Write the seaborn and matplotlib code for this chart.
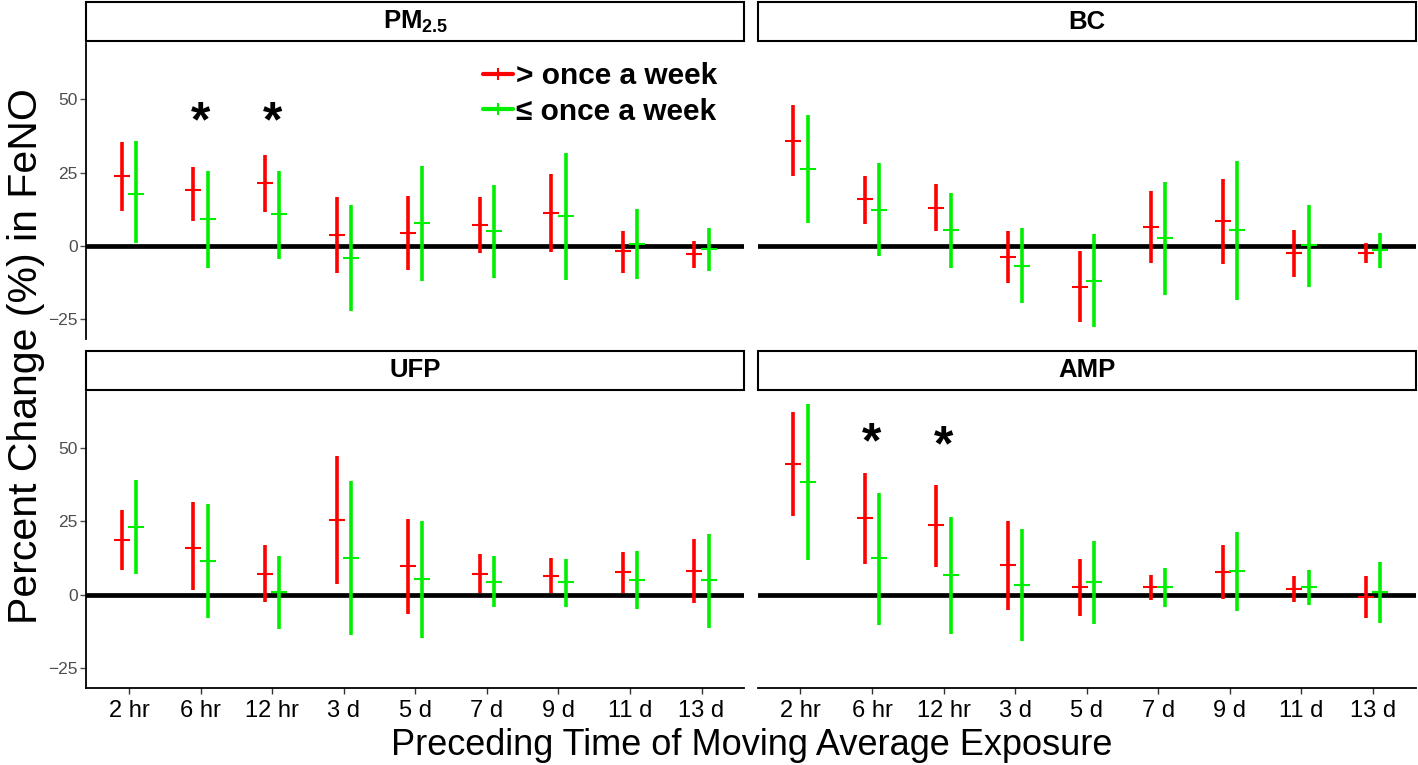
import numpy as np
import pandas as pd
import matplotlib
matplotlib.use("Agg")
import matplotlib.pyplot as plt
from matplotlib.patches import Rectangle
from matplotlib.lines import Line2D
import seaborn as sns

# categorias
windows = ["2 hr", "6 hr", "12 hr", "3 d", "5 d", "7 d", "9 d", "11 d", "13 d"]
pollutants = ["PM2.5", "BC", "UFP", "AMP"]
strip_labels = [r"$\mathbf{PM_{2.5}}$", "BC", "UFP", "AMP"]
groups = ["> once a week", "≤ once a week"]
colors = ["#FF0000", "#00EE00"]

# PM2.5
pm25_gt = [23.8, 19.2, 21.4, 3.6, 4.4, 7.1, 11.2, -1.9, -2.9]
pm25_gt_lo = [11.9, 8.5, 11.7, -9.4, -8.3, -2.3, -2.0, -9.2, -7.5]
pm25_gt_hi = [35.4, 26.8, 31.1, 16.6, 17.1, 16.6, 24.4, 4.9, 1.5]
pm25_le = [17.8, 9.1, 10.7, -4.1, 7.8, 5.0, 10.1, 0.6, -1.1]
pm25_le_lo = [0.9, -7.6, -4.4, -22.1, -11.9, -11.1, -11.6, -11.2, -8.6]
pm25_le_hi = [35.8, 25.6, 25.5, 13.8, 27.4, 20.9, 31.6, 12.7, 6.2]

# BC
bc_gt = [35.9, 16.1, 12.9, -3.7, -14.1, 6.5, 8.4, -2.5, -2.3]
bc_gt_lo = [23.9, 7.5, 4.9, -12.7, -26.0, -5.7, -6.2, -10.7, -5.9]
bc_gt_hi = [47.9, 23.8, 21.0, 5.1, -1.9, 18.6, 22.9, 5.4, 1.1]
bc_le = [26.3, 12.4, 5.3, -6.7, -11.9, 2.6, 5.4, 0.2, -1.4]
bc_le_lo = [7.9, -3.4, -7.6, -19.5, -27.8, -16.7, -18.3, -14.1, -7.5]
bc_le_hi = [44.7, 28.1, 18.1, 6.2, 4.0, 21.8, 29.1, 13.8, 4.5]

# UFP
ufp_gt = [18.7, 16.1, 7.1, 25.6, 9.7, 7.1, 6.3, 7.6, 8.1]
ufp_gt_lo = [8.4, 1.5, -2.6, 3.8, -6.6, 0.6, 0.6, 0.6, -2.9]
ufp_gt_hi = [29.0, 31.7, 17.1, 47.3, 25.9, 14.0, 12.7, 14.6, 19.1]
ufp_le = [23.2, 11.5, 0.8, 12.6, 5.3, 4.5, 4.2, 5.0, 4.9]
ufp_le_lo = [7.2, -7.9, -11.8, -13.6, -14.9, -4.3, -4.0, -4.9, -11.3]
ufp_le_hi = [39.1, 31.0, 13.2, 38.7, 25.3, 13.1, 12.3, 14.8, 20.9]

# AMP
amp_gt = [44.7, 26.1, 23.8, 10.1, 2.5, 2.5, 7.9, 2.1, -0.8]
amp_gt_lo = [27.0, 10.4, 9.6, -5.1, -7.4, -1.9, -1.6, -2.3, -7.8]
amp_gt_hi = [62.2, 41.6, 37.5, 25.1, 12.3, 6.8, 17.0, 6.3, 6.3]
amp_le = [38.5, 12.4, 6.8, 3.5, 4.5, 2.6, 8.1, 2.6, 1.0]
amp_le_lo = [11.9, -10.2, -13.3, -15.7, -9.8, -4.2, -5.7, -3.5, -9.5]
amp_le_hi = [65.0, 34.8, 26.7, 22.6, 18.4, 9.0, 21.5, 8.6, 11.3]

# asteriscos de significancia
star_panels = ["PM2.5", "PM2.5", "AMP", "AMP"]
star_windows = ["6 hr", "12 hr", "6 hr", "12 hr"]
star_y = [44.7, 44.7, 54.3, 53.3]

series = {
    ("PM2.5", groups[0]): (pm25_gt, pm25_gt_lo, pm25_gt_hi),
    ("PM2.5", groups[1]): (pm25_le, pm25_le_lo, pm25_le_hi),
    ("BC", groups[0]): (bc_gt, bc_gt_lo, bc_gt_hi),
    ("BC", groups[1]): (bc_le, bc_le_lo, bc_le_hi),
    ("UFP", groups[0]): (ufp_gt, ufp_gt_lo, ufp_gt_hi),
    ("UFP", groups[1]): (ufp_le, ufp_le_lo, ufp_le_hi),
    ("AMP", groups[0]): (amp_gt, amp_gt_lo, amp_gt_hi),
    ("AMP", groups[1]): (amp_le, amp_le_lo, amp_le_hi),
}
rows = []
for (pol, grp), (est, lo, hi) in series.items():
    for w, e, l, h in zip(windows, est, lo, hi):
        rows.append(dict(pollutant=pol, window=w, group=grp, est=e, lo=l, hi=h))
df = pd.DataFrame(rows)

sns.set_theme(style="white")
plt.rcParams["font.family"] = ["Liberation Sans", "DejaVu Sans"]
plt.rcParams["text.color"] = "black"
plt.rcParams["mathtext.fontset"] = "custom"
plt.rcParams["mathtext.rm"] = "Liberation Sans"
plt.rcParams["mathtext.bf"] = "Liberation Sans:bold"


def draw(data, **kws):
    ax = plt.gca()
    ax.axhline(0, color="black", lw=3.4, zorder=1)
    for k, (grp, col) in enumerate(zip(groups, colors)):
        d = data[data["group"] == grp]
        x = np.array([windows.index(w) for w in d["window"]]) + (-0.1 if k == 0 else 0.1)
        ax.errorbar(x, d["est"], yerr=[d["est"] - d["lo"], d["hi"] - d["est"]],
                    fmt="_", color=col, ecolor=col, elinewidth=2.6,
                    markersize=11, markeredgewidth=1.5, capsize=0, zorder=2)


g = sns.FacetGrid(df, col="pollutant", col_wrap=2, col_order=pollutants,
                  sharex=True, sharey=True, height=3, aspect=2.2)
g.map_dataframe(draw)
g.set_titles("")
g.set_axis_labels("", "")
g.figure.set_size_inches(14.18, 7.65)
g.figure.subplots_adjust(left=86 / 1418, right=1416 / 1418, top=1 - 43 / 765,
                         bottom=1 - 688 / 765, wspace=13 / 658, hspace=53 / 297)

for i, (ax, pol, lab) in enumerate(zip(g.axes.flat, pollutants, strip_labels)):
    ax.set_xlim(-0.6, 8.6)
    ax.set_ylim(-31.8, 69.2)
    ax.set_xticks(range(len(windows)))
    ax.set_xticklabels(windows)
    ax.set_yticks([-25, 0, 25, 50])
    ax.tick_params(axis="y", labelsize=12.5, labelcolor="#4D4D4D", color="#4D4D4D",
                   length=4, width=1, left=(i % 2 == 0), labelleft=(i % 2 == 0), pad=2)
    ax.tick_params(axis="x", labelsize=17, labelcolor="black", color="#333333",
                   length=4, width=1, bottom=(i >= 2), labelbottom=(i >= 2), pad=5)
    for s in ["top", "right"]:
        ax.spines[s].set_visible(False)
    ax.spines["left"].set_visible(i % 2 == 0)
    ax.spines["bottom"].set_visible(i >= 2)
    for s in ["left", "bottom"]:
        ax.spines[s].set_color("black")
        ax.spines[s].set_linewidth(1.3)
    # strip
    ax.add_patch(Rectangle((0, 1 + 2 / 297), 1, 39 / 297, transform=ax.transAxes,
                           facecolor="white", edgecolor="black", lw=1.5, clip_on=False))
    ax.text(0.5, 1 + 21.5 / 297, lab, transform=ax.transAxes, ha="center", va="center",
            fontsize=18.5, fontweight="bold")
    for sp, sw, sy in zip(star_panels, star_windows, star_y):
        if sp == pol:
            ax.annotate("*", (windows.index(sw), sy), xytext=(0, -6),
                        textcoords="offset points", ha="center", va="center",
                        fontsize=36, fontweight="bold")

handles = [Line2D([], [], color=c, lw=3, marker="|", markersize=9, markeredgewidth=1.5)
           for c in colors]
leg = g.axes.flat[0].legend(handles, groups, loc="upper right", bbox_to_anchor=(0.981, 0.985),
                            frameon=False, handlelength=1.0, handletextpad=0.1,
                            labelspacing=0.25, borderpad=0,
                            prop={"size": 21.5, "weight": "bold",
                                  "family": ["Liberation Sans", "DejaVu Sans"]})

g.figure.text(0.018, 0.535, "Percent Change (%) in FeNO", rotation=90,
              ha="center", va="center", fontsize=29.5)
g.figure.text(0.53, 0.026, "Preceding Time of Moving Average Exposure",
              ha="center", va="center", fontsize=26)

g.figure.savefig("out.png", dpi=100)
